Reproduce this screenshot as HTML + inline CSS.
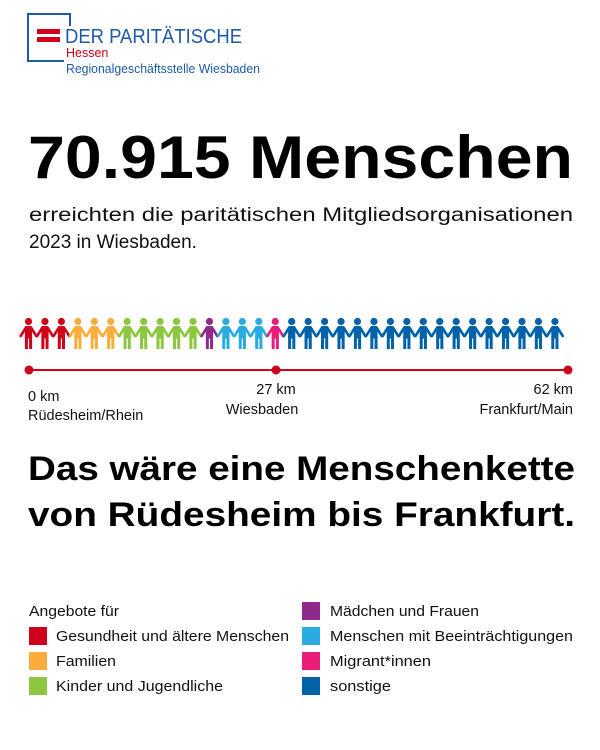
<!DOCTYPE html>
<html><head><meta charset="utf-8"><style>
body{margin:0;background:#fff;}
svg{display:block}
text{font-family:"Liberation Sans",sans-serif}
</style></head><body>
<svg width="600" height="750" viewBox="0 0 600 750" xmlns="http://www.w3.org/2000/svg">
<rect width="600" height="750" fill="#fff"/>
<path d="M70,26 V14 H28 V61 H64" fill="none" stroke="#1d5aa8" stroke-width="2"/>
<rect x="37" y="29" width="23" height="5" fill="#d0021b"/>
<rect x="37" y="37" width="23" height="5" fill="#d0021b"/>
<text x="65" y="43" font-size="20" fill="#1d5aa8" textLength="177" lengthAdjust="spacingAndGlyphs">DER PARITÄTISCHE</text>
<text x="66" y="57" font-size="12.5" fill="#d0021b">Hessen</text>
<text x="66" y="73" font-size="12.5" fill="#1d5aa8" textLength="194" lengthAdjust="spacingAndGlyphs">Regionalgeschäftsstelle Wiesbaden</text>
<text x="28" y="178" font-size="60" font-weight="bold" fill="#000" textLength="545" lengthAdjust="spacingAndGlyphs">70.915 Menschen</text>
<text x="29" y="221" font-size="19" fill="#111" textLength="544" lengthAdjust="spacingAndGlyphs">erreichten die paritätischen Mitgliedsorganisationen</text>
<text x="29" y="248" font-size="19" fill="#111">2023 in Wiesbaden.</text>
<g id="people"></g>
<line x1="29" y1="370" x2="568" y2="370" stroke="#d0021b" stroke-width="2"/>
<circle cx="29" cy="370" r="4.5" fill="#d0021b"/>
<circle cx="276" cy="370" r="4.5" fill="#d0021b"/>
<circle cx="568" cy="370" r="4.5" fill="#d0021b"/>
<g font-size="14.5" fill="#111">
<text x="28" y="401">0 km</text>
<text x="28" y="420">Rüdesheim/Rhein</text>
<text x="276" y="394" text-anchor="middle">27 km</text>
<text x="262" y="414" text-anchor="middle">Wiesbaden</text>
<text x="573" y="394" text-anchor="end">62 km</text>
<text x="573" y="414" text-anchor="end">Frankfurt/Main</text>
</g>
<text x="28" y="480" font-size="34" font-weight="bold" fill="#000" textLength="547" lengthAdjust="spacingAndGlyphs">Das wäre eine Menschenkette</text>
<text x="28" y="526" font-size="34" font-weight="bold" fill="#000" textLength="547" lengthAdjust="spacingAndGlyphs">von Rüdesheim bis Frankfurt.</text>
<g font-size="15" fill="#111">
<text x="29" y="616" textLength="90" lengthAdjust="spacingAndGlyphs">Angebote für</text>
<rect x="29" y="627" width="18" height="18" fill="#d0021b"/><text x="56" y="641" textLength="233" lengthAdjust="spacingAndGlyphs">Gesundheit und ältere Menschen</text>
<rect x="29" y="652" width="18" height="18" fill="#fbad3b"/><text x="56" y="666" textLength="60" lengthAdjust="spacingAndGlyphs">Familien</text>
<rect x="29" y="677" width="18" height="18" fill="#8dc63f"/><text x="56" y="691" textLength="167" lengthAdjust="spacingAndGlyphs">Kinder und Jugendliche</text>
<rect x="302" y="602" width="18" height="18" fill="#8e2a8e"/><text x="330" y="616" textLength="149" lengthAdjust="spacingAndGlyphs">Mädchen und Frauen</text>
<rect x="302" y="627" width="18" height="18" fill="#29abe2"/><text x="330" y="641" textLength="243" lengthAdjust="spacingAndGlyphs">Menschen mit Beeinträchtigungen</text>
<rect x="302" y="652" width="18" height="18" fill="#e91e7a"/><text x="330" y="666" textLength="101" lengthAdjust="spacingAndGlyphs">Migrant*innen</text>
<rect x="302" y="677" width="18" height="18" fill="#0062a8"/><text x="330" y="691" textLength="61" lengthAdjust="spacingAndGlyphs">sonstige</text>
</g>
</svg>
<script>
var g=document.getElementById('people');
var cols=[];
function add(c,n){for(var i=0;i<n;i++)cols.push(c);}
add('#d0021b',3);add('#fbad3b',3);add('#8dc63f',5);add('#8e2a8e',1);add('#29abe2',3);add('#e91e7a',1);add('#0062a8',17);
var s='';
for(var i=0;i<cols.length;i++){
 var cx=28.5+i*16.45,c=cols[i];
 s+='<circle cx="'+cx+'" cy="321.5" r="3.6" fill="'+c+'"/>';
 s+='<rect x="'+(cx-3.6)+'" y="326" width="7.2" height="12.5" rx="2" fill="'+c+'"/>';
 s+='<rect x="'+(cx-3.6)+'" y="336" width="3" height="13" fill="'+c+'"/>';
 s+='<rect x="'+(cx+0.6)+'" y="336" width="3" height="13" fill="'+c+'"/>';
 s+='<line x1="'+(cx-2.5)+'" y1="327.5" x2="'+(cx-7.8)+'" y2="336" stroke="'+c+'" stroke-width="2.6" stroke-linecap="round"/>';
 s+='<line x1="'+(cx+2.5)+'" y1="327.5" x2="'+(cx+7.8)+'" y2="336" stroke="'+c+'" stroke-width="2.6" stroke-linecap="round"/>';
}
g.innerHTML=s;
</script>
</body></html>
